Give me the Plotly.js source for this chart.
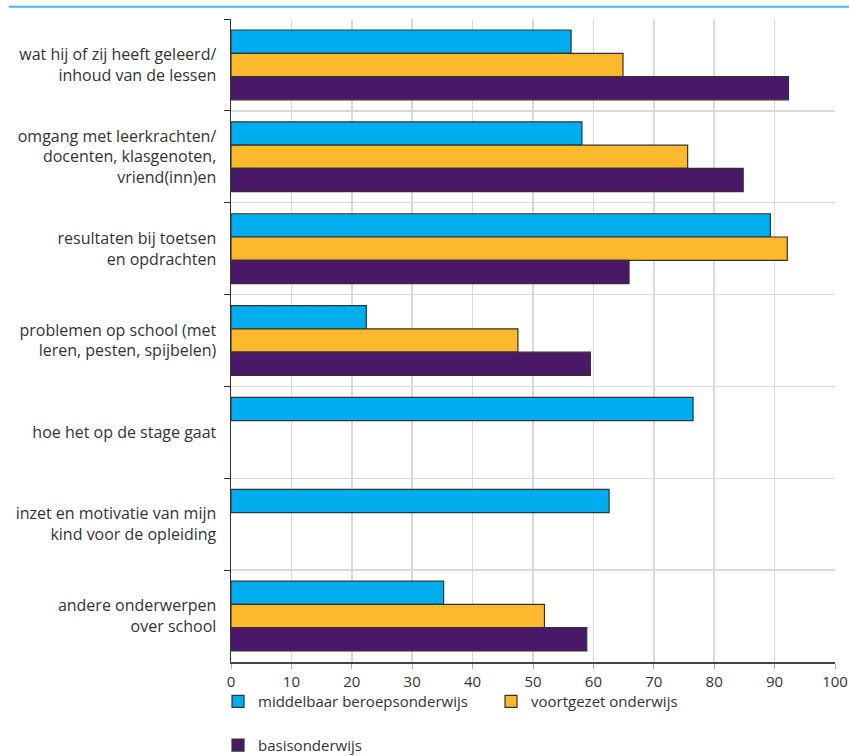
<!DOCTYPE html>
<html>
<head>
<meta charset="utf-8">
<script src="https://cdn.plot.ly/plotly-3.0.1.min.js"></script>
<style>html,body{margin:0;padding:0;background:#fff;}#chart{width:849px;height:756px;}</style>
</head>
<body>
<div id="chart"></div>
<script>
const categories = [
  "wat hij of zij heeft geleerd/<br>inhoud van de lessen",
  "omgang met leerkrachten/<br>docenten, klasgenoten,<br>vriend(inn)en",
  "resultaten bij toetsen<br>en opdrachten",
  "problemen op school (met<br>leren, pesten, spijbelen)",
  "hoe het op de stage gaat",
  "inzet en motivatie van mijn<br>kind voor de opleiding",
  "andere onderwerpen<br>over school"
];
const seriesNames = ["middelbaar beroepsonderwijs", "voortgezet onderwijs", "basisonderwijs"];
const mbo = [56.3, 58.1, 89.3, 22.4, 76.5, 62.6, 35.2];
const vo  = [64.9, 75.6, 92.1, 47.5, null, null, 51.9];
const bo  = [92.3, 84.8, 65.9, 59.5, null, null, 58.9];
const xTicks = [0, 10, 20, 30, 40, 50, 60, 70, 80, 90, 100];

const colors = ["#00aeef", "#fdb92e", "#4a1869"];
const font = "'Open Sans', 'Noto Sans', sans-serif";

function bar(vals, i, legend) {
  return {
    type: "bar", orientation: "h", name: seriesNames[i],
    x: vals, y: categories,
    marker: {color: colors[i], line: {color: "#333333", width: 1.2}},
    legend: legend, hoverinfo: "x"
  };
}

const data = [bar(mbo, 0, "legend"), bar(vo, 1, "legend"), bar(bo, 2, "legend2")];

const layout = {
  width: 849, height: 756,
  margin: {l: 231, r: 14, t: 19, b: 94, autoexpand: false},
  paper_bgcolor: "#ffffff", plot_bgcolor: "#ffffff",
  barmode: "group", bargap: 0.24, bargroupgap: 0,
  font: {family: font, size: 15, color: "#333333"},
  showlegend: true,
  xaxis: {
    range: [0, 100], tickvals: xTicks, ticktext: xTicks.map(String),
    showgrid: true, gridcolor: "#d9d9d9", gridwidth: 1.5,
    showline: true, linecolor: "#444444", linewidth: 1.5,
    ticks: "outside", ticklen: 5, tickcolor: "#aaaaaa",
    zeroline: false, tickfont: {family: font, size: 15, color: "#333333"},
    fixedrange: true
  },
  yaxis: {
    type: "category", autorange: "reversed", tickson: "boundaries",
    showgrid: true, gridcolor: "#d9d9d9", gridwidth: 1.5,
    showline: true, linecolor: "#333333", linewidth: 1.5,
    ticks: "outside", ticklen: 6, tickcolor: "#333333",
    ticklabelstandoff: 10,
    tickfont: {family: font, size: 16, color: "#333333"},
    fixedrange: true
  },
  legend: {
    orientation: "h", x: -0.0215, xanchor: "left", y: -0.036, yanchor: "top",
    xref: "paper", yref: "paper",
    font: {family: font, size: 15, color: "#333333"},
    entrywidth: 228, entrywidthmode: "pixels", itemwidth: 30,
    bgcolor: "rgba(0,0,0,0)"
  },
  legend2: {
    orientation: "h", x: -0.0215, xanchor: "left", y: -0.104, yanchor: "top",
    xref: "paper", yref: "paper",
    font: {family: font, size: 15, color: "#333333"},
    itemwidth: 30, bgcolor: "rgba(0,0,0,0)"
  },
  shapes: [{
    type: "line", xref: "paper", yref: "paper",
    x0: -0.368, x1: 1.03, y0: 1.019, y1: 1.019,
    line: {color: "#4cb4e7", width: 2}
  }]
};

Plotly.newPlot("chart", data, layout, {displayModeBar: false, staticPlot: true});
</script>
</body>
</html>
